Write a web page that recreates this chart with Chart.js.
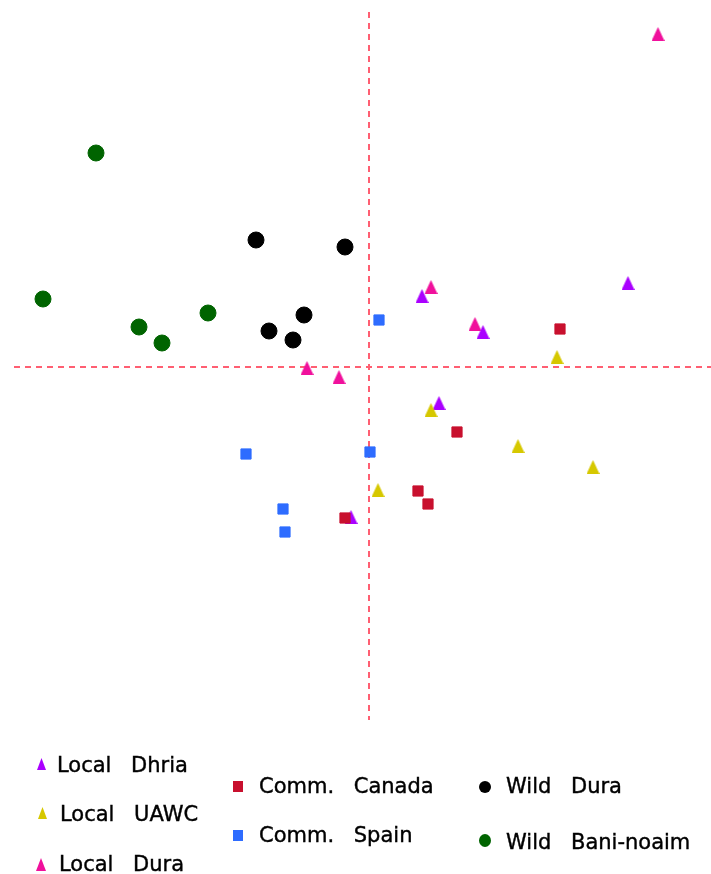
<!DOCTYPE html>
<html>
<head>
<meta charset="utf-8">
<script src="https://cdn.jsdelivr.net/npm/chart.js@4.4.1/dist/chart.umd.min.js"></script>
<style>
    html, body { margin: 0; background: #ffffff; overflow: hidden; }
    .wrap { position: relative; width: 711px; height: 874px; overflow: hidden; }
    #scatterChart { position: absolute; left: 0; top: 0; }
    .legend-text {
        position: absolute;
        font-family: "DejaVu Sans", sans-serif;
        font-size: 21px;
        line-height: 21px;
        word-spacing: 13px;
        color: #000;
        white-space: pre;
        -webkit-text-stroke: 0.4px #000;
    }
    .mk { position: absolute; }
    .tri { clip-path: polygon(50% 0, 100% 100%, 0 100%); }
    .dot { border-radius: 50%; }
</style>
</head>
<body>
<div class="wrap">
    <canvas id="scatterChart" width="711" height="874"></canvas>
</div>
<script>
// axis limits (scores, the dashed lines cross at 0,0)
const xLimits = [-35.5, 34.2];
const yLimits = [-35.3, 35.5];

const seriesNames = ['Local Dhria', 'Local UAWC', 'Local Dura', 'Comm. Canada', 'Comm. Spain', 'Wild Dura', 'Wild Bani-noaim'];

const dhriaX = [25.9, 5.3, 11.4, 7.0, -1.8];
const dhriaY = [8.4, 7.1, 3.5, -3.6, -15.0];

const uawcX = [18.8, 6.2, 14.9, 22.4, 0.9];
const uawcY = [1.0, -4.3, -7.9, -10.0, -12.3];

const duraX = [28.9, 6.2, 10.6, -6.2, -3.0];
const duraY = [33.3, 8.0, 4.3, -0.1, -1.0];

const canadaX = [19.1, 8.8, 4.9, 5.9, -2.4];
const canadaY = [3.8, -6.5, -12.4, -13.7, -15.1];

const spainX = [1.0, -12.3, 0.1, -8.6, -8.4];
const spainY = [4.7, -8.7, -8.5, -14.2, -16.5];

const wildDuraX = [-11.3, -2.4, -6.5, -10.0, -7.6];
const wildDuraY = [12.7, 12.0, 5.2, 3.6, 2.7];

const baniX = [-27.3, -32.6, -23.0, -20.7, -16.1];
const baniY = [21.4, 6.8, 4.0, 2.4, 5.4];

const colors = {
    dhria: '#aa00ff',
    uawc: '#d6c800',
    dura: '#f0109c',
    canada: '#c8102e',
    spain: '#2e6cff',
    wildDura: '#000000',
    bani: '#006400',
    cross: '#ff5f72'
};

function toPoints(xs, ys) {
    return xs.map((x, i) => ({ x: x, y: ys[i] }));
}

// triangle marker as a small canvas
function makeTriangle(color, w, h) {
    const c = document.createElement('canvas');
    c.width = w;
    c.height = h;
    const ctx = c.getContext('2d');
    ctx.fillStyle = color;
    ctx.beginPath();
    ctx.moveTo(w / 2, 0);
    ctx.lineTo(w, h);
    ctx.lineTo(0, h);
    ctx.closePath();
    ctx.fill();
    return c;
}

function triSet(label, xs, ys, color, order) {
    return {
        label: label,
        data: toPoints(xs, ys),
        pointStyle: makeTriangle(color, 13, 14),
        backgroundColor: color,
        borderColor: color,
        order: order
    };
}

function markSet(label, xs, ys, color, style, radius, order) {
    return {
        label: label,
        data: toPoints(xs, ys),
        pointStyle: style,
        pointRadius: radius,
        pointBorderWidth: 1,
        backgroundColor: color,
        borderColor: color,
        order: order
    };
}

new Chart(document.getElementById('scatterChart').getContext('2d'), {
    type: 'scatter',
    data: {
        datasets: [
            {
                type: 'line',
                label: 'h',
                data: [{ x: xLimits[0], y: 0 }, { x: xLimits[1], y: 0 }],
                borderColor: colors.cross,
                borderWidth: 2,
                borderDash: [6, 5],
                pointRadius: 0,
                order: 10
            },
            {
                type: 'line',
                label: 'v',
                data: [{ x: 0, y: yLimits[1] }, { x: 0, y: yLimits[0] }],
                borderColor: colors.cross,
                borderWidth: 2,
                borderDash: [6, 5],
                pointRadius: 0,
                order: 10
            },
            triSet(seriesNames[2], duraX, duraY, colors.dura, 6),
            triSet(seriesNames[0], dhriaX, dhriaY, colors.dhria, 5),
            triSet(seriesNames[1], uawcX, uawcY, colors.uawc, 4),
            markSet(seriesNames[3], canadaX, canadaY, colors.canada, 'rect', 7.2, 3),
            markSet(seriesNames[4], spainX, spainY, colors.spain, 'rect', 7.2, 2),
            markSet(seriesNames[5], wildDuraX, wildDuraY, colors.wildDura, 'circle', 8, 1),
            markSet(seriesNames[6], baniX, baniY, colors.bani, 'circle', 8, 1)
        ]
    },
    options: {
        responsive: false,
        animation: false,
        devicePixelRatio: 1,
        layout: {
            autoPadding: false,
            padding: { left: 14, top: 12, right: 0, bottom: 154 }
        },
        scales: {
            x: { type: 'linear', min: xLimits[0], max: xLimits[1], display: false },
            y: { type: 'linear', min: yLimits[0], max: yLimits[1], display: false }
        },
        plugins: {
            legend: { display: false },
            tooltip: { enabled: false }
        }
    }
});

// legend below the plot, laid out like the original
const legendItems = [
    { text: 'Local Dhria', color: colors.dhria, shape: 'tri', mx: 37, my: 758, mw: 9, mh: 12, tx: 57, ty: 755 },
    { text: 'Local UAWC', color: colors.uawc, shape: 'tri', mx: 38, my: 807, mw: 9, mh: 12, tx: 60, ty: 804 },
    { text: 'Local Dura', color: colors.dura, shape: 'tri', mx: 36, my: 858, mw: 10, mh: 13, tx: 59, ty: 854 },
    { text: 'Comm. Canada', color: colors.canada, shape: 'sq', mx: 233, my: 781, mw: 10, mh: 11, tx: 259, ty: 776 },
    { text: 'Comm. Spain', color: colors.spain, shape: 'sq', mx: 233, my: 830, mw: 10, mh: 11, tx: 259, ty: 825 },
    { text: 'Wild Dura', color: colors.wildDura, shape: 'dot', mx: 479, my: 781, mw: 12, mh: 12, tx: 506, ty: 776 },
    { text: 'Wild Bani-noaim', color: colors.bani, shape: 'dot', mx: 479, my: 834, mw: 12, mh: 13, tx: 506, ty: 832 }
];

const wrap = document.querySelector('.wrap');
legendItems.forEach((item) => {
    const mk = document.createElement('div');
    mk.className = 'mk' + (item.shape === 'tri' ? ' tri' : item.shape === 'dot' ? ' dot' : '');
    mk.style.left = item.mx + 'px';
    mk.style.top = item.my + 'px';
    mk.style.width = item.mw + 'px';
    mk.style.height = item.mh + 'px';
    mk.style.background = item.color;
    wrap.appendChild(mk);

    const txt = document.createElement('div');
    txt.className = 'legend-text';
    txt.style.left = item.tx + 'px';
    txt.style.top = item.ty + 'px';
    txt.textContent = item.text;
    wrap.appendChild(txt);
});
</script>
</body>
</html>
